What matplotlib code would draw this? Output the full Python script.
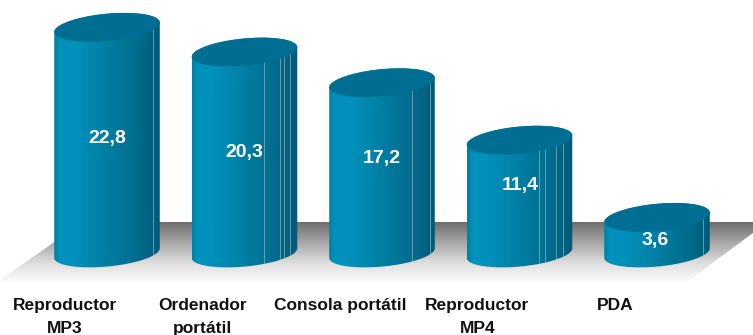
#!/usr/bin/python3
import matplotlib
matplotlib.use("Agg")
import matplotlib.pyplot as plt
import numpy as np
from matplotlib.colors import LinearSegmentedColormap
from matplotlib.patches import Polygon

categories = ["Reproductor\nMP3", "Ordenador\nportátil", "Consola portátil", "Reproductor\nMP4", "PDA"]
values = [22.8, 20.3, 17.2, 11.4, 3.6]
value_labels = ["22,8", "20,3", "17,2", "11,4", "3,6"]

# pixels per data unit
PX_X = 137.5
PX_Y = 9.9
BASE_X = 107
BASE_Y = 253

# cylinder look, pixels
A = 53
B = 13.5
TILT = np.radians(5.5)
label_nudge = [(0, 2), (0, 0), (0, 9), (1, 11), (-2, -5)]
streaks = [[46], [19, 35, 39, 45], [30, 48], [19, 25, 36, 43], [46]]

plt.rcParams['font.family'] = ['Liberation Sans', 'DejaVu Sans']

fig = plt.figure(figsize=(7.53, 3.35), dpi=100)
ax = fig.add_axes([0, 0, 1, 1])
ax.set_xlim(-BASE_X / PX_X, (753 - BASE_X) / PX_X)
ax.set_ylim(-(335 - BASE_Y) / PX_Y, BASE_Y / PX_Y)
ax.axis("off")
xlim = ax.get_xlim()
ylim = ax.get_ylim()

# floor, in axes fractions
floor_pts = np.array([[83, 222], [753, 222], [753, 233], [684, 284], [0, 284], [0, 280]], dtype=float)
floor_pts = floor_pts / [753, 335]
floor_pts[:, 1] = 1 - floor_pts[:, 1]
floor_patch = Polygon(floor_pts, closed=True, transform=ax.transAxes, fc="none", ec="none")
ax.add_patch(floor_patch)
floor_cmap = LinearSegmentedColormap.from_list("floor", ["#6e6e6e", "#a8a8a8", "#dedede", "#ffffff"])
floor_img = ax.imshow(np.linspace(0, 1, 128).reshape(-1, 1), cmap=floor_cmap, aspect="auto",
                      extent=[xlim[0], xlim[1], -(284 - BASE_Y) / PX_Y, (BASE_Y - 222) / PX_Y],
                      zorder=1)
floor_img.set_clip_path(floor_patch)

side_cmap = LinearSegmentedColormap.from_list(
    "side", [(0, "#03809f"), (0.05, "#0092bd"), (0.2, "#0090ba"), (0.5, "#007ea3"),
             (0.8, "#006b8c"), (1, "#005a76")])

t = np.linspace(0, 2 * np.pi, 361)[:-1]
ex = A * np.cos(t) * np.cos(TILT) - B * np.sin(t) * np.sin(TILT)
ey = A * np.cos(t) * np.sin(TILT) + B * np.sin(t) * np.cos(TILT)
left = np.argmin(ex)
ex = np.roll(ex, -left) / PX_X
ey = np.roll(ey, -left) / PX_Y
right = np.argmax(ex)

for i, v in enumerate(values):
    # lower half of the foot, upper half of the top
    outline = np.vstack([
        np.column_stack([i + ex[:right + 1], ey[:right + 1]]),
        np.column_stack([i + ex[right:], v + ey[right:]]),
    ])
    body = Polygon(outline, closed=True, fc="none", ec="none", transform=ax.transData)
    ax.add_patch(body)
    img = ax.imshow(np.linspace(0, 1, 128).reshape(1, -1), cmap=side_cmap, aspect="auto",
                    extent=[i - A / PX_X, i + A / PX_X, -3, v + 3], zorder=2)
    img.set_clip_path(body)
    for dx in streaks[i]:
        line = ax.vlines(i + dx / PX_X, -3, v + 3, color="#9fc4d2", lw=0.7, alpha=0.6, zorder=3)
        line.set_clip_path(body)
    ax.add_patch(Polygon(np.column_stack([i + ex, v + ey]), closed=True, fc="#006e93", ec="none", zorder=4))
    ax.annotate(value_labels[i], (i, v / 2), xytext=label_nudge[i], textcoords="offset pixels",
                color="white", fontsize=14, fontweight="bold", ha="center", va="center", zorder=5)
    ax.annotate(categories[i], (i, 0), xytext=(-42, -(298 - BASE_Y)), textcoords="offset pixels",
                color="#111111", fontsize=12.5, fontweight="bold", ha="center", va="top",
                linespacing=1.65, annotation_clip=False)

ax.set_xlim(xlim)
ax.set_ylim(ylim)
fig.savefig("out.png", dpi=100)
